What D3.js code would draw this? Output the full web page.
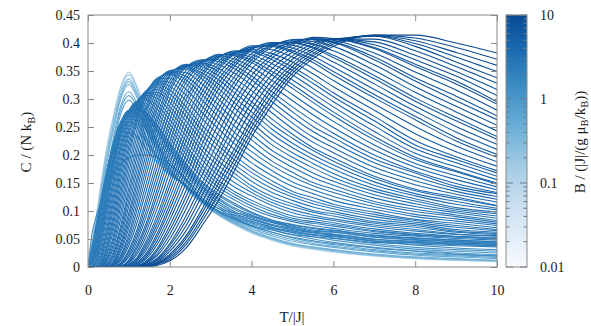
<!DOCTYPE html>
<html><head><meta charset="utf-8">
<script src="https://cdn.jsdelivr.net/npm/d3@7"></script>
<style>
html,body{margin:0;padding:0;background:#fff;}
svg{display:block;}
svg text{fill:#1a1a1a;}
</style></head><body>
<svg id="chart" width="591" height="326"></svg>
<script>
// ---- data ----
const temperatures = [0,0.1,0.2,0.3,0.45,0.6,0.8,1.0,1.2,1.4,1.7,2.0,2.4,2.8,3.2,3.6,4.0,4.5,5.0,5.5,6.0,7.0,8.0,9.0,10.0];
// low-field curves
const c_b0_02 = [0,.045,.09,.14,.21,.263,.322,.348,.322,.278,.222,.18,.14,.113,.092,.075,.06,.047,.037,.031,.026,.019,.0145,.0115,.0093];
const c_b0_12 = [0,.045,.09,.14,.21,.263,.322,.348,.322,.278,.222,.18,.14,.113,.092,.075,.061,.048,.038,.032,.027,.02,.015,.012,.0098];
const c_b0_2  = [0,.042,.086,.135,.205,.258,.318,.343,.318,.275,.221,.18,.14,.113,.092,.076,.062,.049,.039,.033,.028,.02,.0155,.0125,.0103];
const c_b0_3  = [0,.037,.079,.127,.195,.249,.31,.336,.311,.27,.219,.179,.141,.114,.093,.077,.063,.05,.04,.034,.029,.021,.016,.013,.011];
const c_b0_36 = [0,.035,.075,.122,.188,.243,.305,.331,.307,.267,.217,.178,.141,.114,.094,.078,.064,.051,.041,.035,.03,.022,.017,.014,.0115];
const c_b0_42 = [0,.032,.07,.116,.181,.237,.3,.326,.302,.264,.215,.177,.141,.114,.094,.078,.065,.052,.042,.036,.031,.023,.018,.015,.012];
const c_b0_56 = [0,.026,.06,.102,.165,.223,.288,.313,.292,.256,.21,.175,.142,.115,.095,.08,.068,.056,.046,.04,.035,.027,.021,.018,.015];
const c_b0_64 = [0,.023,.055,.095,.156,.215,.281,.306,.286,.251,.208,.174,.143,.116,.096,.082,.071,.059,.049,.042,.037,.029,.023,.02,.017];
const c_b0_72 = [0,.02,.049,.087,.147,.206,.273,.298,.279,.246,.205,.173,.143,.116,.097,.084,.074,.062,.052,.045,.04,.031,.025,.022,.019];
const c_b0_9  = [0,.015,.039,.072,.128,.187,.255,.28,.264,.235,.199,.171,.144,.117,.098,.086,.077,.067,.057,.05,.044,.035,.029,.025,.022];
const c_b1_0  = [0,.013,.034,.065,.119,.177,.245,.27,.256,.23,.196,.17,.145,.118,.099,.088,.081,.071,.061,.054,.048,.039,.032,.028,.025];
const c_b1_1  = [0,.011,.029,.058,.109,.166,.234,.26,.248,.224,.193,.168,.145,.118,.1,.092,.085,.075,.065,.058,.052,.042,.035,.031,.028];
const c_b1_25 = [0,.008,.022,.047,.093,.146,.213,.24,.233,.213,.187,.165,.145,.12,.104,.097,.09,.08,.07,.062,.056,.046,.039,.034,.031];
const c_b1_45 = [0,.06,.09,.112,.142,.165,.184,.195,.2,.2,.196,.183,.155,.118,.098,.084,.073,.062,.053,.047,.042,.034,.028,.023,.02];
// high-field curves
const c_b2_0   = [0,.038,.076,.113,.169,.216,.257,.271,.264,.247,.215,.183,.147,.118,.099,.086,.074,.066,.058,.054,.051,.044,.041,.038,.036];
const c_b2_04  = [0,.033,.073,.112,.168,.215,.258,.274,.268,.253,.221,.189,.153,.123,.104,.089,.079,.069,.062,.057,.054,.046,.043,.04,.038];
const c_b2_08  = [0,.028,.07,.11,.166,.214,.258,.276,.272,.258,.227,.195,.158,.128,.108,.092,.082,.071,.064,.058,.056,.047,.044,.041,.038];
const c_b2_115 = [0,.023,.067,.108,.164,.213,.259,.278,.276,.263,.233,.201,.164,.133,.112,.095,.085,.074,.067,.061,.058,.049,.045,.043,.04];
const c_b2_15  = [0,.018,.064,.106,.162,.212,.259,.28,.28,.268,.239,.207,.169,.138,.116,.098,.088,.076,.069,.062,.059,.05,.046,.043,.04];
const c_b2_19  = [0,.015,.057,.1,.157,.208,.257,.28,.282,.271,.243,.211,.173,.142,.12,.102,.091,.079,.072,.064,.062,.053,.048,.045,.042];
const c_b2_23  = [0,.011,.05,.093,.152,.204,.254,.279,.283,.273,.246,.215,.177,.145,.123,.105,.093,.081,.073,.066,.063,.054,.049,.046,.043];
const c_b2_265 = [0,.007,.043,.087,.147,.2,.252,.278,.284,.276,.25,.219,.181,.149,.127,.11,.096,.083,.075,.069,.065,.056,.051,.048,.045];
const c_b2_3   = [0,.003,.035,.08,.142,.196,.249,.277,.285,.278,.253,.223,.185,.152,.13,.113,.098,.084,.076,.07,.066,.057,.052,.048,.045];
const c_b2_35  = [0,.003,.029,.071,.134,.19,.246,.278,.288,.283,.26,.231,.193,.16,.136,.119,.104,.09,.081,.074,.069,.06,.055,.051,.048];
const c_b2_4   = [0,.002,.023,.062,.126,.184,.243,.278,.291,.288,.267,.239,.201,.167,.142,.124,.109,.094,.084,.078,.073,.063,.057,.053,.05];
const c_b2_45  = [0,.001,.017,.053,.118,.178,.24,.279,.294,.293,.274,.247,.209,.174,.148,.129,.114,.099,.087,.081,.076,.065,.058,.054,.051];
const c_b2_5   = [0,0,.011,.043,.109,.171,.237,.279,.296,.298,.281,.255,.216,.181,.154,.134,.119,.103,.091,.085,.079,.068,.06,.055,.053];
const c_b2_56  = [0,0,.009,.037,.098,.16,.229,.275,.296,.301,.288,.263,.225,.19,.163,.142,.127,.11,.097,.089,.083,.072,.064,.058,.055];
const c_b2_62  = [0,0,.007,.03,.087,.149,.221,.271,.296,.304,.294,.271,.234,.198,.171,.15,.133,.115,.102,.093,.086,.075,.067,.059,.056];
const c_b2_69  = [0,0,.005,.023,.076,.138,.213,.267,.296,.307,.301,.279,.243,.207,.18,.159,.139,.12,.108,.098,.091,.078,.071,.062,.058];
const c_b2_75  = [0,0,.002,.016,.065,.127,.204,.262,.295,.31,.307,.286,.251,.215,.188,.166,.145,.126,.113,.101,.095,.081,.074,.064,.06];
const c_b2_81  = [0,0,.002,.014,.058,.117,.195,.256,.292,.311,.312,.294,.26,.225,.197,.174,.153,.133,.119,.107,.099,.085,.077,.067,.062];
const c_b2_87  = [0,0,.001,.011,.05,.107,.185,.249,.289,.312,.317,.301,.269,.234,.207,.182,.161,.14,.125,.113,.104,.09,.08,.071,.065];
const c_b2_94  = [0,0,.001,.008,.042,.097,.176,.243,.286,.313,.322,.309,.278,.243,.216,.19,.169,.147,.13,.118,.108,.094,.083,.074,.067];
const c_b3_0   = [0,0,0,.005,.034,.086,.166,.236,.283,.313,.326,.316,.286,.252,.224,.198,.176,.154,.135,.124,.112,.098,.085,.078,.07];
const c_b3_08  = [0,0,0,.004,.03,.077,.155,.226,.277,.311,.329,.323,.297,.264,.235,.209,.186,.163,.144,.131,.119,.103,.09,.082,.074];
const c_b3_15  = [0,0,0,.003,.025,.068,.143,.216,.271,.308,.332,.33,.307,.275,.246,.219,.196,.172,.152,.138,.126,.108,.094,.086,.077];
const c_b3_22  = [0,0,0,.002,.02,.059,.132,.206,.265,.305,.335,.337,.317,.286,.257,.229,.206,.181,.161,.145,.133,.113,.099,.09,.08];
const c_b3_3   = [0,0,0,.001,.015,.049,.12,.195,.258,.302,.338,.344,.327,.297,.268,.239,.216,.189,.169,.151,.139,.117,.103,.093,.083];
const c_b3_38  = [0,0,0,.001,.013,.043,.109,.182,.246,.294,.335,.346,.334,.307,.279,.25,.227,.199,.178,.16,.146,.123,.108,.097,.087];
const c_b3_47  = [0,0,0,.001,.01,.036,.097,.169,.234,.285,.332,.348,.34,.316,.289,.261,.237,.208,.187,.168,.153,.129,.113,.1,.091];
const c_b3_56  = [0,0,0,0,.007,.03,.086,.156,.222,.277,.329,.35,.347,.326,.299,.272,.248,.218,.196,.177,.16,.135,.118,.103,.095];
const c_b3_65  = [0,0,0,0,.004,.023,.074,.142,.21,.268,.325,.351,.353,.335,.309,.283,.258,.227,.204,.185,.167,.14,.122,.106,.098];
const c_b3_73  = [0,0,0,0,.004,.019,.067,.131,.198,.257,.318,.349,.356,.341,.318,.292,.268,.237,.213,.193,.175,.146,.127,.112,.102];
const c_b3_82  = [0,0,0,0,.003,.015,.059,.12,.185,.245,.31,.346,.358,.346,.326,.301,.277,.246,.221,.2,.182,.152,.131,.117,.105];
const c_b3_91  = [0,0,0,0,.002,.011,.051,.109,.173,.234,.302,.343,.36,.352,.334,.31,.287,.255,.23,.208,.189,.158,.136,.122,.109];
const c_b4_0   = [0,0,0,0,.001,.007,.043,.097,.16,.222,.294,.34,.362,.357,.341,.318,.295,.264,.237,.213,.195,.162,.139,.125,.11];
const c_b4_1   = [0,0,0,0,.001,.006,.038,.088,.149,.209,.284,.333,.361,.361,.348,.327,.305,.275,.247,.223,.204,.17,.147,.13,.116];
const c_b4_2   = [0,0,0,0,.001,.005,.032,.079,.137,.196,.273,.326,.36,.364,.354,.336,.315,.285,.257,.232,.213,.178,.154,.135,.121];
const c_b4_3   = [0,0,0,0,0,.004,.027,.07,.125,.183,.262,.319,.359,.367,.361,.345,.325,.295,.267,.242,.222,.186,.161,.14,.126];
const c_b4_4   = [0,0,0,0,0,.003,.021,.06,.113,.17,.251,.312,.357,.37,.367,.353,.334,.305,.277,.251,.231,.193,.168,.144,.131];
const c_b4_52  = [0,0,0,0,0,.003,.018,.053,.102,.157,.237,.3,.351,.369,.371,.359,.341,.313,.286,.261,.239,.2,.171,.149,.133];
const c_b4_65  = [0,0,0,0,0,.002,.014,.046,.09,.143,.222,.288,.344,.368,.374,.365,.349,.323,.297,.272,.249,.209,.178,.156,.138];
const c_b4_77  = [0,0,0,0,0,.001,.011,.039,.079,.13,.208,.276,.337,.367,.377,.371,.357,.333,.308,.283,.26,.218,.185,.163,.143];
const c_b4_9   = [0,0,0,0,0,0,.007,.031,.067,.116,.193,.263,.33,.365,.38,.377,.365,.343,.319,.294,.27,.227,.192,.17,.148];
const c_b5_02  = [0,0,0,0,0,0,.006,.027,.06,.106,.18,.25,.32,.36,.379,.379,.369,.349,.326,.301,.277,.233,.196,.172,.15];
const c_b5_15  = [0,0,0,0,0,0,.005,.022,.053,.095,.167,.237,.31,.354,.377,.381,.374,.356,.334,.31,.286,.242,.203,.179,.156];
const c_b5_27  = [0,0,0,0,0,0,.004,.018,.046,.085,.154,.224,.3,.348,.376,.384,.379,.363,.343,.319,.295,.252,.211,.186,.162];
const c_b5_4   = [0,0,0,0,0,0,.002,.013,.039,.074,.141,.211,.289,.342,.374,.386,.384,.37,.351,.328,.304,.261,.218,.192,.168];
const c_b5_55  = [0,0,0,0,0,0,.002,.011,.034,.067,.13,.198,.277,.333,.368,.384,.386,.375,.357,.335,.311,.269,.226,.197,.172];
const c_b5_7   = [0,0,0,0,0,0,.001,.009,.028,.059,.118,.184,.264,.323,.363,.383,.389,.381,.366,.345,.322,.28,.238,.206,.18];
const c_b5_85  = [0,0,0,0,0,0,.001,.007,.023,.051,.106,.17,.251,.314,.358,.382,.392,.388,.375,.355,.333,.291,.251,.216,.188];
const c_b6_0   = [0,0,0,0,0,0,0,.005,.017,.043,.094,.156,.238,.304,.353,.381,.395,.394,.383,.365,.343,.302,.263,.225,.196];
const c_b6_15  = [0,0,0,0,0,0,0,.004,.015,.038,.086,.145,.226,.293,.345,.375,.393,.395,.386,.37,.349,.308,.269,.231,.201];
const c_b6_3   = [0,0,0,0,0,0,0,.003,.013,.033,.078,.134,.213,.282,.336,.37,.391,.397,.391,.377,.357,.317,.278,.241,.21];
const c_b6_45  = [0,0,0,0,0,0,0,.002,.011,.028,.07,.123,.201,.271,.328,.365,.39,.399,.396,.384,.366,.327,.287,.251,.219];
const c_b6_6   = [0,0,0,0,0,0,0,.001,.008,.022,.061,.112,.188,.26,.319,.36,.388,.401,.401,.391,.374,.336,.296,.261,.228];
const c_b6_77  = [0,0,0,0,0,0,0,.001,.007,.019,.055,.103,.176,.247,.307,.351,.381,.398,.4,.393,.378,.342,.302,.267,.233];
const c_b6_95  = [0,0,0,0,0,0,0,.001,.005,.016,.048,.093,.163,.234,.295,.342,.375,.396,.402,.398,.386,.351,.312,.277,.243];
const c_b7_12  = [0,0,0,0,0,0,0,.001,.004,.013,.041,.084,.15,.221,.283,.333,.37,.395,.404,.403,.394,.361,.322,.287,.253];
const c_b7_3   = [0,0,0,0,0,0,0,0,.002,.009,.034,.074,.137,.208,.271,.324,.364,.393,.406,.407,.401,.37,.332,.297,.263];
const c_b7_5   = [0,0,0,0,0,0,0,0,.002,.008,.03,.066,.126,.194,.257,.311,.353,.385,.402,.407,.402,.375,.338,.305,.27];
const c_b7_7   = [0,0,0,0,0,0,0,0,.001,.007,.025,.058,.115,.18,.242,.298,.342,.379,.399,.408,.405,.382,.348,.316,.28];
const c_b7_9   = [0,0,0,0,0,0,0,0,.001,.006,.021,.05,.104,.166,.227,.286,.332,.373,.396,.41,.408,.39,.358,.327,.291];
const c_b8_1   = [0,0,0,0,0,0,0,0,0,.004,.016,.042,.092,.152,.211,.272,.319,.364,.39,.407,.407,.392,.362,.332,.295];
const c_b8_32  = [0,0,0,0,0,0,0,0,0,.004,.014,.038,.083,.141,.199,.258,.307,.354,.384,.403,.407,.397,.37,.341,.306];
const c_b8_55  = [0,0,0,0,0,0,0,0,0,.003,.012,.033,.074,.129,.186,.243,.294,.344,.377,.399,.407,.402,.378,.349,.317];
const c_b8_77  = [0,0,0,0,0,0,0,0,0,.002,.01,.028,.065,.117,.174,.229,.281,.334,.371,.395,.407,.407,.386,.358,.328];
const c_b9_0   = [0,0,0,0,0,0,0,0,0,.001,.008,.023,.056,.105,.161,.214,.268,.324,.364,.39,.407,.412,.394,.366,.338];
const c_b9_25  = [0,0,0,0,0,0,0,0,0,.001,.007,.02,.051,.098,.151,.205,.259,.316,.358,.386,.404,.413,.399,.375,.349];
const c_b9_5   = [0,0,0,0,0,0,0,0,0,.001,.006,.017,.045,.09,.141,.195,.25,.307,.352,.381,.401,.413,.404,.383,.36];
const c_b9_75  = [0,0,0,0,0,0,0,0,0,.001,.005,.014,.04,.083,.131,.185,.241,.299,.346,.377,.398,.414,.409,.392,.371];
const c_b10    = [0,0,0,0,0,0,0,0,0,0,.003,.011,.034,.075,.12,.175,.232,.29,.34,.372,.394,.414,.414,.4,.382];

const fields = [0.02,0.12,0.2,0.3,0.36,0.42,0.56,0.64,0.72,0.9,1.0,1.1,1.25,1.45,
  2.0,2.04,2.08,2.115,2.15,2.19,2.23,2.265,2.3,2.35,2.4,2.45,2.5,2.56,2.62,2.69,2.75,2.81,2.87,2.94,
  3.0,3.08,3.15,3.22,3.3,3.38,3.47,3.56,3.65,3.73,3.82,3.91,4.0,4.1,4.2,4.3,4.4,4.52,4.65,4.77,4.9,
  5.02,5.15,5.27,5.4,5.55,5.7,5.85,6.0,6.15,6.3,6.45,6.6,6.77,6.95,7.12,7.3,7.5,7.7,7.9,8.1,8.32,8.55,8.77,9.0,9.25,9.5,9.75,10];
const capacityCurves = [c_b0_02,c_b0_12,c_b0_2,c_b0_3,c_b0_36,c_b0_42,c_b0_56,c_b0_64,c_b0_72,c_b0_9,c_b1_0,c_b1_1,c_b1_25,c_b1_45,
  c_b2_0,c_b2_04,c_b2_08,c_b2_115,c_b2_15,c_b2_19,c_b2_23,c_b2_265,c_b2_3,c_b2_35,c_b2_4,c_b2_45,c_b2_5,c_b2_56,c_b2_62,c_b2_69,c_b2_75,c_b2_81,c_b2_87,c_b2_94,
  c_b3_0,c_b3_08,c_b3_15,c_b3_22,c_b3_3,c_b3_38,c_b3_47,c_b3_56,c_b3_65,c_b3_73,c_b3_82,c_b3_91,c_b4_0,c_b4_1,c_b4_2,c_b4_3,c_b4_4,c_b4_52,c_b4_65,c_b4_77,c_b4_9,
  c_b5_02,c_b5_15,c_b5_27,c_b5_4,c_b5_55,c_b5_7,c_b5_85,c_b6_0,c_b6_15,c_b6_3,c_b6_45,c_b6_6,c_b6_77,c_b6_95,c_b7_12,c_b7_3,c_b7_5,c_b7_7,c_b7_9,c_b8_1,c_b8_32,c_b8_55,c_b8_77,c_b9_0,c_b9_25,c_b9_5,c_b9_75,c_b10];

const xTicks = [0,2,4,6,8,10];
const xTickLabels = ["0","2","4","6","8","10"];
const yTicks = [0,0.05,0.1,0.15,0.2,0.25,0.3,0.35,0.4,0.45];
const yTickLabels = ["0","0.05","0.1","0.15","0.2","0.25","0.3","0.35","0.4","0.45"];
const cbTicks = [0.01,0.1,1,10];
const cbTickLabels = ["0.01","0.1","1","10"];

// ---- drawing ----
const FONT = '"Liberation Serif","DejaVu Serif",serif';
const TICKFS = 14, TITLEFS = 15;
const svg = d3.select("#chart");
const L = 88, R = 497, T0 = 15, B0 = 267;
const x = d3.scaleLinear().domain([0,10]).range([L,R]);
const y = d3.scaleLinear().domain([0,0.45]).range([B0,T0]);
const cbScale = d3.scaleLog().domain([0.01,10]).range([B0,T0]);
const colorOf = b => d3.interpolateBlues(0.9*(Math.log10(b)+2)/3);
const frameColor = "#8a8a8a";

const defs = svg.append("defs");
defs.append("clipPath").attr("id","plotclip").append("rect")
  .attr("x",L).attr("y",T0).attr("width",R-L).attr("height",B0-T0);

const line = d3.line().x((d,i)=>x(temperatures[i])).y(d=>y(d)).curve(d3.curveMonotoneX);
const gCurves = svg.append("g").attr("clip-path","url(#plotclip)");
capacityCurves.forEach((c,i)=>{
  gCurves.append("path").attr("d",line(c)).attr("fill","none")
    .attr("stroke",colorOf(fields[i])).attr("stroke-width",1.1);
});

function styleAxis(g){
  g.attr("font-family",FONT);
  g.select(".domain").remove();
  g.selectAll(".tick line").attr("stroke",frameColor);
  g.selectAll(".tick text").attr("font-size",TICKFS).attr("fill","#1a1a1a").attr("font-family",FONT);
}
svg.append("g").attr("transform",`translate(0,${B0})`)
  .call(d3.axisBottom(x).tickValues(xTicks).tickFormat((d,i)=>xTickLabels[i]).tickSize(-6).tickPadding(18))
  .call(styleAxis);
svg.append("g").attr("transform",`translate(0,${T0})`)
  .call(d3.axisTop(x).tickValues(xTicks).tickFormat("").tickSize(-6))
  .call(styleAxis);
svg.append("g").attr("transform",`translate(${L},0)`)
  .call(d3.axisLeft(y).tickValues(yTicks).tickFormat((d,i)=>yTickLabels[i]).tickSize(-6).tickPadding(8))
  .call(styleAxis);
svg.append("g").attr("transform",`translate(${R},0)`)
  .call(d3.axisRight(y).tickValues(yTicks).tickFormat("").tickSize(-6))
  .call(styleAxis);
svg.append("rect").attr("x",L).attr("y",T0).attr("width",R-L).attr("height",B0-T0)
  .attr("fill","none").attr("stroke",frameColor).attr("stroke-width",1);

// axis titles
svg.append("text").attr("x",292).attr("y",322).attr("text-anchor","middle").attr("font-size",TITLEFS).attr("font-family",FONT).text("T/|J|");
const yt = svg.append("text").attr("transform","translate(31,142) rotate(-90)").attr("text-anchor","middle").attr("font-size",TITLEFS).attr("font-family",FONT);
yt.append("tspan").text("C / (N k");
yt.append("tspan").attr("font-size",10.5).attr("dy",4).text("B");
yt.append("tspan").attr("dy",-4).text(")");

// colorbar
const CBL = 506, CBR = 527;
const grad = defs.append("linearGradient").attr("id","cbgrad").attr("x1",0).attr("y1",1).attr("x2",0).attr("y2",0);
d3.range(0,1.0001,0.05).forEach(t=>{
  grad.append("stop").attr("offset",t).attr("stop-color",d3.interpolateBlues(0.9*t));
});
svg.append("rect").attr("x",CBL).attr("y",T0).attr("width",CBR-CBL).attr("height",B0-T0).attr("fill","url(#cbgrad)");
const minor = [];
[0.01,0.1,1].forEach(dec=>{ for(let k=2;k<=9;k++) minor.push(dec*k); });
const gcb = svg.append("g");
minor.forEach(v=>{
  const yy = cbScale(v);
  gcb.append("line").attr("x1",CBL).attr("x2",CBL+3.5).attr("y1",yy).attr("y2",yy).attr("stroke","#6b7d90");
  gcb.append("line").attr("x1",CBR-3.5).attr("x2",CBR).attr("y1",yy).attr("y2",yy).attr("stroke","#6b7d90");
});
cbTicks.forEach(v=>{
  const yy = cbScale(v);
  gcb.append("line").attr("x1",CBL).attr("x2",CBL+7).attr("y1",yy).attr("y2",yy).attr("stroke","#6b7d90");
  gcb.append("line").attr("x1",CBR-7).attr("x2",CBR).attr("y1",yy).attr("y2",yy).attr("stroke","#6b7d90");
});
svg.append("rect").attr("x",CBL).attr("y",T0).attr("width",CBR-CBL).attr("height",B0-T0)
  .attr("fill","none").attr("stroke",frameColor).attr("stroke-width",1);
cbTicks.forEach((v,i)=>{
  svg.append("text").attr("x",540).attr("y",cbScale(v)).attr("dy","0.35em").attr("font-size",TICKFS).attr("font-family",FONT).text(cbTickLabels[i]);
});
const ct = svg.append("text").attr("transform","translate(585,142) rotate(-90)").attr("text-anchor","middle").attr("font-size",TITLEFS).attr("font-family",FONT);
ct.append("tspan").text("B / (|J|/(g μ");
ct.append("tspan").attr("font-size",10.5).attr("dy",3).text("B");
ct.append("tspan").attr("dy",-3).text("/k");
ct.append("tspan").attr("font-size",10.5).attr("dy",3).text("B");
ct.append("tspan").attr("dy",-3).text("))");
</script>
</body></html>
